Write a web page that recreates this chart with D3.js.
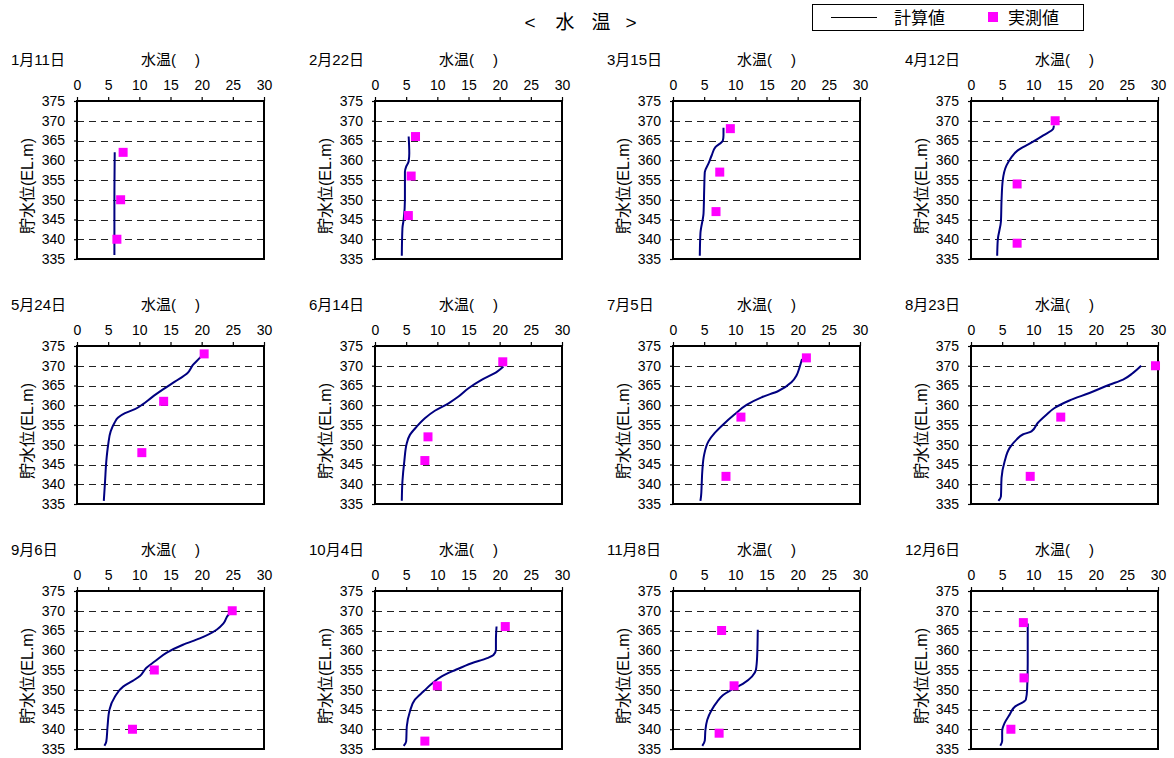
<!DOCTYPE html>
<html>
<head>
<meta charset="utf-8">
<script src="https://cdn.jsdelivr.net/npm/d3@7"></script>
<style>
  html, body { margin: 0; padding: 0; background: #fff; }
  svg text { font-family: "Liberation Sans", Arial, "Noto Sans CJK JP", sans-serif; fill: #000; }
</style>
</head>
<body>
<svg id="chart" width="1174" height="758"></svg>
<script>
// ---- data ----
const dates = ["1月11日","2月22日","3月15日","4月12日","5月24日","6月14日","7月5日","8月23日","9月6日","10月4日","11月8日","12月6日"];
const xTicks = [0, 5, 10, 15, 20, 25, 30];
const yTicks = [335, 340, 345, 350, 355, 360, 365, 370, 375];
const gridLevels = [340, 345, 350, 355, 360, 365, 370];

// calculated profiles: [elevation, temperature]
const calcJan = [[336,6.0],[349,6.0],[362,6.05]];
const calcFeb = [[335.8,4.3],[342.8,4.4],[345,4.6],[350,4.8],[357.1,4.8],[358.4,5.0],[359.7,5.4],[361.8,5.5],[366,5.4]];
const calcMar = [[335.8,4.3],[341.5,4.4],[346.6,4.9],[352.4,5.0],[357,5.1],[359.2,5.7],[361.2,6.2],[363.3,6.8],[365,8.0],[366.3,8.1],[368.2,8.1]];
const calcApr = [[335.8,4.2],[339.9,4.3],[344.5,4.8],[349.9,4.9],[355,5.1],[358.7,5.7],[360.8,6.5],[362.5,7.5],[364.2,9.4],[366.3,11.6],[368,13.2],[368.8,13.3]];
const calcMay = [[335.8,4.3],[340.7,4.5],[345.8,4.7],[350,5.0],[353.4,5.4],[355.5,6.0],[356.9,6.6],[358,7.7],[359,9.3],[360.3,10.6],[362,12.0],[364,13.8],[366,15.7],[368.1,17.7],[370.2,18.6],[372,19.7],[372.9,20.2]];
const calcJun = [[335.8,4.3],[340.7,4.4],[345.8,4.7],[350.4,5.1],[352.5,5.6],[354.6,6.7],[356.7,8.0],[358.6,9.6],[360.5,11.8],[362.2,13.4],[364.3,15.0],[366.4,17.1],[368.5,19.6],[369.8,20.6]];
const calcJul = [[335.8,4.4],[337,4.5],[339.9,4.6],[343.3,4.7],[347.5,5.0],[350.9,5.7],[353,6.7],[355.2,8.1],[357.7,9.9],[360.1,11.8],[362,14.2],[363.6,16.9],[365.8,19.0],[367.5,19.8],[369.6,20.3],[371.7,20.7]];
const calcAug = [[335.8,4.4],[336.9,4.8],[341.6,4.9],[345.8,5.4],[349.2,6.2],[351.3,7.3],[352.6,8.3],[353.4,9.7],[355.5,10.7],[357.6,12.1],[359.3,13.4],[361.2,15.8],[363.1,19.0],[365.2,22.2],[366.5,24.4],[368.2,26.0],[370,27.3]];
const calcSep = [[335.8,4.4],[336.9,4.7],[340.7,4.9],[344.9,5.2],[348.3,6.1],[350.8,7.4],[352.3,9.0],[353.5,10.1],[355.5,11.1],[357.2,12.5],[359.4,14.4],[361.4,17.0],[363,19.7],[365.2,22.4],[366.8,23.5],[369,24.3],[369.8,24.9]];
const calcOct = [[335.8,4.6],[336.9,5.0],[340.7,5.1],[344.5,5.6],[347.5,6.4],[349.6,7.8],[351.5,9.1],[353.4,10.7],[355,12.9],[356.7,15.5],[358,18.0],[358.8,19.0],[360.1,19.4],[362.6,19.4],[366,19.5]];
const calcNov = [[335.8,4.7],[337.1,5.1],[339.8,5.2],[342.4,5.5],[344.9,6.2],[347,7.1],[348.6,8.0],[350,9.4],[351.5,11.2],[353.4,12.7],[355,13.3],[358.4,13.5],[365.2,13.6]];
const calcDec = [[335.8,4.7],[337,5.0],[339.5,5.0],[341.6,5.4],[343.7,6.2],[345.8,7.1],[346.9,8.4],[347.5,8.8],[350,9.0],[356.7,9.1],[366.8,9.1]];
const calcProfiles = [calcJan, calcFeb, calcMar, calcApr, calcMay, calcJun, calcJul, calcAug, calcSep, calcOct, calcNov, calcDec];

// observed points: [elevation, temperature]
const obsJan = [[362,7.4],[350,7.0],[340,6.4]];
const obsFeb = [[366,6.5],[356,5.8],[346,5.35]];
const obsMar = [[368,9.2],[357,7.5],[347,6.9]];
const obsApr = [[370,13.5],[354,7.4],[339,7.4]];
const obsMay = [[373,20.4],[361,13.9],[348,10.4]];
const obsJun = [[371,20.5],[352,8.5],[346,8.0]];
const obsJul = [[372,21.4],[357,10.9],[342,8.5]];
const obsAug = [[370,29.6],[357,14.4],[342,9.5]];
const obsSep = [[370,24.9],[355,12.4],[340,8.9]];
const obsOct = [[366,20.9],[351,10.0],[337,8.0]];
const obsNov = [[365,7.8],[351,9.8],[339,7.4]];
const obsDec = [[367,8.4],[353,8.5],[340,6.4]];
const obsProfiles = [obsJan, obsFeb, obsMar, obsApr, obsMay, obsJun, obsJul, obsAug, obsSep, obsOct, obsNov, obsDec];

// ---- layout ----
const svg = d3.select("#chart");
const W = 187, H = 158;
const colX = 77, colStep = 298, rowY = 101, rowStep = 245;
const lineColor = "#000080", markColor = "#ff00ff";

const x = d3.scaleLinear().domain([0, 30]).range([0, W]);
const y = d3.scaleLinear().domain([335, 375]).range([H, 0]);

// title
const titleG = svg.append("g").attr("font-size", 19);
[["<",530],["水",565],["温",601],[">",631]].forEach(([t, cx]) => {
  titleG.append("text").attr("x", cx).attr("y", 29).attr("text-anchor", "middle").text(t);
});

// legend
const lg = svg.append("g");
lg.append("rect").attr("x", 812.5).attr("y", 4.5).attr("width", 271).attr("height", 26)
  .attr("fill", "#fff").attr("stroke", "#000").attr("stroke-width", 1);
lg.append("line").attr("x1", 831).attr("x2", 877).attr("y1", 17.5).attr("y2", 17.5)
  .attr("stroke", "#000").attr("stroke-width", 1.2);
lg.append("text").attr("x", 894).attr("y", 23.5).attr("font-size", 17).text("計算値");
lg.append("rect").attr("x", 988).attr("y", 12).attr("width", 10).attr("height", 10).attr("fill", markColor);
lg.append("text").attr("x", 1008).attr("y", 23.5).attr("font-size", 17).text("実測値");

const line = d3.line().x(d => x(d[1])).y(d => y(d[0])).curve(d3.curveMonotoneY);

dates.forEach((date, i) => {
  const col = i % 4, row = Math.floor(i / 4);
  const g = svg.append("g").attr("transform", `translate(${colX + col * colStep},${rowY + row * rowStep})`);

  // grid
  g.selectAll("line.grid").data(gridLevels).join("line")
    .attr("class", "grid")
    .attr("x1", 0).attr("x2", W)
    .attr("y1", d => Math.round(y(d)) + 0.5).attr("y2", d => Math.round(y(d)) + 0.5)
    .attr("stroke", "#222").attr("stroke-width", 1).attr("stroke-dasharray", "7,5");

  // top axis
  const xAxis = d3.axisTop(x).tickValues(xTicks).tickSize(4).tickPadding(7);
  const gx = g.append("g").call(xAxis);
  gx.select(".domain").remove();
  gx.selectAll("text").attr("font-size", 14).attr("font-family", "Liberation Sans, Arial, sans-serif");
  gx.selectAll("line").attr("stroke-width", 1.2);

  // left axis
  const yAxis = d3.axisLeft(y).tickValues(yTicks).tickSize(3).tickPadding(9);
  const gy = g.append("g").call(yAxis);
  gy.select(".domain").remove();
  gy.selectAll("text").attr("font-size", 14).attr("font-family", "Liberation Sans, Arial, sans-serif");
  gy.selectAll("line").attr("stroke-width", 1.2);

  // frame
  g.append("rect").attr("x", 0).attr("y", 0).attr("width", W).attr("height", H)
    .attr("fill", "none").attr("stroke", "#000").attr("stroke-width", 2);

  // calculated line
  g.append("path").datum(calcProfiles[i]).attr("d", line)
    .attr("fill", "none").attr("stroke", lineColor).attr("stroke-width", 2);

  // observed markers
  const ms = 9;
  g.selectAll("rect.obs").data(obsProfiles[i]).join("rect")
    .attr("class", "obs")
    .attr("x", d => x(d[1]) - ms / 2).attr("y", d => y(d[0]) - ms / 2)
    .attr("width", ms).attr("height", ms).attr("fill", markColor);

  // labels
  g.append("text").attr("x", -66).attr("y", -36).attr("font-size", 15).text(date);
  g.append("text").attr("x", W / 2).attr("y", -36).attr("text-anchor", "middle")
    .attr("font-size", 15).text("水温(\u3000 )");
  g.append("text").attr("transform", `translate(${-44},${H / 2 + 6}) rotate(-90)`)
    .attr("text-anchor", "middle").attr("font-size", 16).text("貯水位(EL.m)");
});
</script>
</body>
</html>
